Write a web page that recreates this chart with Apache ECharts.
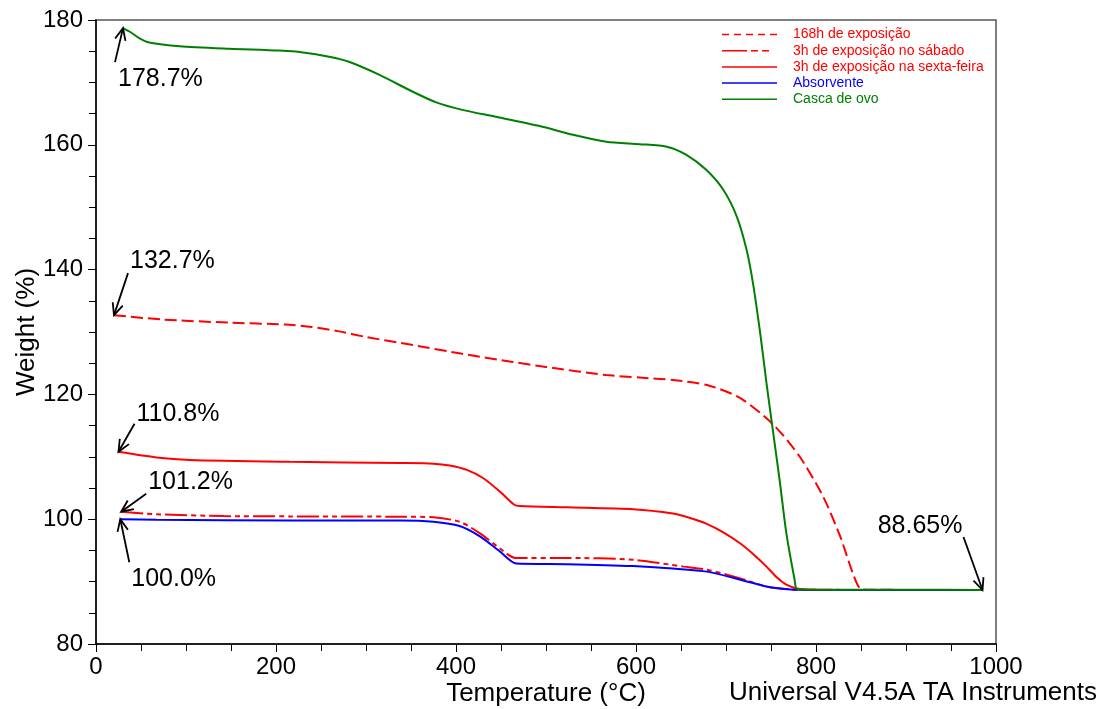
<!DOCTYPE html>
<html>
<head>
<meta charset="utf-8">
<title>TGA - Weight (%) vs Temperature</title>
<script src="https://cdn.jsdelivr.net/npm/echarts@6/dist/echarts.min.js"></script>
<style>
  html, body { margin: 0; padding: 0; background: #fff; }
  #chart { width: 1104px; height: 709px; }
</style>
</head>
<body>
<div id="chart"></div>
<script>
// Thermogravimetric curves: weight (%) against temperature (°C)
const seriesNames = [
  '168h de exposição',
  '3h de exposição no sábado',
  '3h de exposição na sexta-feira',
  'Absorvente',
  'Casca de ovo'
];

const temp168h = [20, 74, 148, 210, 240, 270, 300, 352, 407, 463, 500, 567, 604, 641, 679, 716, 753, 782, 808, 827, 841, 849, 860, 985];
const weight168h = [132.7, 132.0, 131.5, 131.2, 130.8, 130.1, 129.2, 127.9, 126.5, 125.2, 124.4, 123.1, 122.7, 122.3, 121.5, 119.4, 115.1, 110.0, 103.6, 97.2, 91.3, 88.9, 88.7, 88.65];

const tempSabado = [28, 67, 142, 216, 338, 375, 404, 427, 449, 466, 523, 597, 653, 679, 716, 745, 760, 780, 985];
const weightSabado = [101.2, 100.8, 100.5, 100.45, 100.4, 100.3, 99.6, 97.7, 95.3, 93.8, 93.8, 93.5, 92.4, 91.9, 90.5, 89.2, 88.9, 88.7, 88.65];

const tempSexta = [25, 67, 104, 215, 338, 375, 393, 412, 430, 449, 464, 471, 523, 597, 641, 660, 678, 697, 716, 731, 745, 757, 767, 780, 800, 985];
const weightSexta = [110.8, 109.9, 109.5, 109.2, 109.0, 108.9, 108.6, 107.9, 106.6, 104.4, 102.4, 102.1, 101.9, 101.6, 100.9, 100.2, 99.3, 97.9, 96.1, 94.3, 92.4, 90.6, 89.5, 88.85, 88.7, 88.65];

const tempAbsorvente = [27, 67, 216, 338, 375, 404, 427, 449, 467, 523, 597, 641, 679, 716, 745, 760, 780, 985];
const weightAbsorvente = [100.0, 99.9, 99.8, 99.8, 99.6, 98.9, 97.2, 94.8, 92.9, 92.8, 92.5, 92.1, 91.6, 90.3, 89.2, 88.9, 88.7, 88.65];

const tempCasca = [30, 39, 48, 59, 93, 148, 204, 230, 259, 281, 315, 352, 378, 407, 444, 493, 530, 567, 604, 634, 656, 678, 697, 712, 723, 730, 738, 745, 752, 760, 767, 776, 779, 800, 900, 985];
const weightCasca = [178.7, 178.0, 177.1, 176.4, 175.8, 175.4, 175.1, 174.8, 174.1, 173.3, 171.2, 168.5, 166.8, 165.6, 164.5, 163.0, 161.6, 160.5, 160.1, 159.7, 158.4, 156.0, 152.8, 148.5, 143.1, 137.8, 129.8, 121.8, 114.3, 105.8, 97.8, 90.5, 88.8, 88.7, 88.7, 88.65];

// Axis ranges and tick labels
const xTicks = [0, 200, 400, 600, 800, 1000];
const yTicks = [80, 100, 120, 140, 160, 180];

// Value call-outs: series index, which end of the curve, text
const calloutSeries = [4, 0, 2, 1, 3, 3];
const calloutEnd = ['first', 'first', 'first', 'first', 'first', 'last'];
const calloutText = ['178.7%', '132.7%', '110.8%', '101.2%', '100.0%', '88.65%'];

const footerText = 'Universal V4.5A TA Instruments';

// ---------------------------------------------------------------
const FONT = '"Liberation Sans", Arial, sans-serif';
const temps = [temp168h, tempSabado, tempSexta, tempAbsorvente, tempCasca];
const weights = [weight168h, weightSabado, weightSexta, weightAbsorvente, weightCasca];
const colors = ['#ff0000', '#ff0000', '#ff0000', '#0000ff', '#008000'];
const dashes = [[12, 5], [22, 4, 5, 4, 5, 4], 'solid', 'solid', 'solid'];
const legendDashes = [[7, 5], [25, 4, 7, 4, 7, 8], null, null, null];

function pairs(t, w) { return t.map((v, i) => [v, w[i]]); }

const chart = echarts.init(document.getElementById('chart'), null, { renderer: 'canvas' });

const series = seriesNames.map((name, i) => ({
  name: name,
  type: 'line',
  data: pairs(temps[i], weights[i]),
  symbol: 'none',
  smooth: 0.25,
  lineStyle: { color: colors[i], width: 2, type: dashes[i] },
  itemStyle: { color: colors[i] },
  z: 2 + i,
  animation: false
}));

chart.setOption({
  animation: false,
  backgroundColor: '#fff',
  grid: {
    left: 96, right: 108, top: 20, bottom: 65,
    outerBoundsMode: 'none',
    containLabel: false,
    show: true, borderColor: '#555', borderWidth: 1.5, backgroundColor: 'transparent'
  },
  xAxis: {
    type: 'value',
    min: xTicks[0],
    max: xTicks[xTicks.length - 1],
    interval: xTicks[1] - xTicks[0],
    name: 'Temperature (°C)',
    nameLocation: 'middle',
    nameGap: 37,
    nameMoveOverlap: false,
    nameTextStyle: { fontFamily: FONT, fontSize: 26, color: '#000' },
    axisLine: { show: true, onZero: false, lineStyle: { color: '#000', width: 1.5 } },
    axisTick: { show: true, inside: false, length: 8, lineStyle: { color: '#000' } },
    minorTick: { show: true, splitNumber: 4, length: 7, lineStyle: { color: '#000' } },
    axisLabel: { fontFamily: FONT, fontSize: 24, color: '#000', margin: 11, formatter: v => String(v) },
    splitLine: { show: false }
  },
  yAxis: {
    type: 'value',
    min: yTicks[0],
    max: yTicks[yTicks.length - 1],
    interval: yTicks[1] - yTicks[0],
    name: 'Weight (%)',
    nameLocation: 'middle',
    nameGap: 56,
    nameMoveOverlap: false,
    nameTextStyle: { fontFamily: FONT, fontSize: 26, color: '#000' },
    axisLine: { show: true, onZero: false, lineStyle: { color: '#000', width: 1.5 } },
    axisTick: { show: true, inside: false, length: 8, lineStyle: { color: '#000' } },
    minorTick: { show: true, splitNumber: 4, length: 7, lineStyle: { color: '#000' } },
    axisLabel: { fontFamily: FONT, fontSize: 24, color: '#000', margin: 13, formatter: v => String(v) },
    splitLine: { show: false }
  },
  series: series
});

// Call-out geometry, in pixels relative to the curve point being labelled
const calloutLayout = [
  { tail: [-8, 34],  text: [-5, 51],  align: 'left' },
  { tail: [14, -42], text: [16, -54], align: 'left' },
  { tail: [16, -28], text: [18, -38], align: 'left' },
  { tail: [25, -18], text: [27, -30], align: 'left' },
  { tail: [9, 43],   text: [11, 60],  align: 'left' },
  { tail: [-19, -53], text: [-20, -64], align: 'right' }
];

function arrowGraphics(tip, tail) {
  const dx = tip[0] - tail[0], dy = tip[1] - tail[1];
  const len = Math.sqrt(dx * dx + dy * dy);
  const ux = dx / len, uy = dy / len;
  const head = 13, spread = 0.42;
  const cs = Math.cos(spread), sn = Math.sin(spread);
  const l = [tip[0] - head * (ux * cs - uy * sn), tip[1] - head * (uy * cs + ux * sn)];
  const r = [tip[0] - head * (ux * cs + uy * sn), tip[1] - head * (uy * cs - ux * sn)];
  const style = { stroke: '#000', lineWidth: 1.8, fill: null };
  return [
    { type: 'polyline', shape: { points: [tail, tip] }, style: style, z: 20 },
    { type: 'polyline', shape: { points: [l, tip, r] }, style: style, z: 20 }
  ];
}

const graphics = [];
calloutSeries.forEach((si, k) => {
  const idx = calloutEnd[k] === 'first' ? 0 : temps[si].length - 1;
  const tip = chart.convertToPixel({ gridIndex: 0 }, [temps[si][idx], weights[si][idx]]);
  const lay = calloutLayout[k];
  const tail = [tip[0] + lay.tail[0], tip[1] + lay.tail[1]];
  graphics.push(...arrowGraphics(tip, tail));
  graphics.push({
    type: 'text',
    x: tip[0] + lay.text[0],
    y: tip[1] + lay.text[1],
    z: 20,
    style: {
      text: calloutText[k],
      font: '25px ' + FONT,
      fill: '#000',
      align: lay.align,
      verticalAlign: 'middle'
    }
  });
});

// Key in the upper right corner: line sample plus coloured name
const keyLeft = 722, keyLineWidth = 55, keyTextGap = 16, keyTop = 34.5, keyRow = 16.2;
seriesNames.forEach((name, i) => {
  const y = keyTop + i * keyRow;
  graphics.push({
    type: 'line',
    shape: { x1: keyLeft, y1: y, x2: keyLeft + keyLineWidth, y2: y },
    style: { stroke: colors[i], lineWidth: 1.5, lineDash: legendDashes[i] },
    z: 20
  });
  graphics.push({
    type: 'text',
    x: keyLeft + keyLineWidth + keyTextGap,
    y: y,
    z: 20,
    style: { text: name, font: '14px ' + FONT, fill: colors[i], verticalAlign: 'middle' }
  });
});

graphics.push({
  type: 'text',
  right: 7,
  top: 680,
  z: 20,
  style: { text: footerText, font: '26px ' + FONT, fill: '#000' }
});

chart.setOption({ graphic: graphics });
</script>
</body>
</html>
